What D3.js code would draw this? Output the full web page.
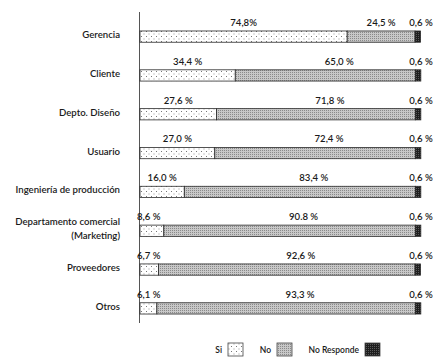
<!DOCTYPE html>
<html>
<head>
<meta charset="utf-8">
<script src="https://cdn.jsdelivr.net/npm/d3@7"></script>
<style>
  body { margin: 0; background: #fff; }
  svg { font-family: Lato, "Open Sans", sans-serif; }
</style>
</head>
<body>
<svg id="chart" width="444" height="364"></svg>
<script>
const categories = ["Gerencia", "Cliente", "Depto. Diseño", "Usuario", "Ingeniería de producción",
  "Departamento comercial|(Marketing)", "Proveedores", "Otros"];
const si = [74.8, 34.4, 27.6, 27.0, 16.0, 8.6, 6.7, 6.1];
const no = [24.5, 65.0, 71.8, 72.4, 83.4, 90.8, 92.6, 93.3];
const noResponde = [0.6, 0.6, 0.6, 0.6, 0.6, 0.6, 0.6, 0.6];
const siLabels = ["74,8%", "34,4 %", "27,6 %", "27,0 %", "16,0 %", "8,6 %", "6,7 %", "6,1 %"];
const noLabels = ["24,5 %", "65,0 %", "71,8 %", "72,4 %", "83,4 %", "90.8 %", "92,6 %", "93,3 %"];
const nrLabels = ["0,6 %", "0,6 %", "0,6 %", "0,6 %", "0,6 %", "0,6 %", "0,6 %", "0,6 %"];
const legendNames = ["Si", "No", "No Responde"];

(() => {
  const svg = d3.select("#chart");
  const defs = svg.append("defs");

  // patterns
  const pSi = defs.append("pattern").attr("id", "pSi")
    .attr("patternUnits", "userSpaceOnUse").attr("width", 5).attr("height", 5);
  pSi.append("rect").attr("width", 5).attr("height", 5).attr("fill", "#fff");
  pSi.append("rect").attr("x", 1).attr("y", 1).attr("width", 1).attr("height", 1).attr("fill", "#777");
  pSi.append("rect").attr("x", 3.5).attr("y", 3.5).attr("width", 1).attr("height", 1).attr("fill", "#999");

  const pNo = defs.append("pattern").attr("id", "pNo")
    .attr("patternUnits", "userSpaceOnUse").attr("width", 2).attr("height", 2);
  pNo.append("rect").attr("width", 2).attr("height", 2).attr("fill", "#c8c8c8");
  pNo.append("rect").attr("width", 1).attr("height", 1).attr("fill", "#8a8a8a");

  const pNr = defs.append("pattern").attr("id", "pNr")
    .attr("patternUnits", "userSpaceOnUse").attr("width", 2).attr("height", 2);
  pNr.append("rect").attr("width", 2).attr("height", 2).attr("fill", "#1e1e1e");
  pNr.append("rect").attr("width", 1).attr("height", 1).attr("fill", "#5a5a5a");

  const fills = ["url(#pSi)", "url(#pNo)", "url(#pNr)"];

  const x = d3.scaleLinear().domain([0, 100]).range([140, 417]);
  const y = d3.scaleBand().domain(categories).range([17, 328]).paddingInner(0.71).paddingOuter(0.36);

  const data = categories.map((c, i) => ({
    cat: c,
    segs: [si[i], no[i], noResponde[i]],
    labels: [siLabels[i], noLabels[i], nrLabels[i]]
  }));

  // axis line
  svg.append("line")
    .attr("x1", 139.5).attr("x2", 139.5)
    .attr("y1", 12).attr("y2", 323)
    .attr("stroke", "#555").attr("stroke-width", 1);

  // category labels
  data.forEach(d => {
    const lines = d.cat.split("|");
    const cy = y(d.cat) + y.bandwidth() / 2;
    const t = svg.append("text")
      .attr("text-anchor", "end")
      .attr("font-size", "9.6px")
      .attr("font-weight", 600)
      .attr("fill", "#1a1a1a");
    lines.forEach((l, k) => {
      t.append("tspan")
        .attr("x", 120)
        .attr("y", cy + 1.5 + (k - (lines.length - 1) / 2) * 14)
        .text(l);
    });
  });

  const rows = svg.selectAll(".row").data(data).join("g").attr("class", "row");

  rows.each(function (d) {
    const g = d3.select(this);
    let acc = 0;
    const top = y(d.cat);
    d.segs.forEach((v, k) => {
      const x0 = acc;
      acc += v;
      // keep the tiny "no responde" slice visible
      const w = k === 2 ? Math.max(x(acc) - x(x0), 5.5) : x(acc) - x(x0);
      g.append("rect")
        .attr("x", x(x0))
        .attr("y", top)
        .attr("width", w)
        .attr("height", y.bandwidth())
        .attr("fill", fills[k])
        .attr("stroke", "#2a2a2a")
        .attr("stroke-width", 0.8);
      let lx = x(x0) + w / 2;
      let anchor = "middle";
      if (k === 0 && w < 40) { lx = 137; anchor = "start"; }
      if (k === 1 && w > 100) lx += 14;
      if (k === 2) lx = 421;
      g.append("text")
        .attr("x", lx)
        .attr("y", top - 5)
        .attr("text-anchor", anchor)
        .attr("font-size", "9.6px")
        .attr("font-weight", 600)
        .attr("fill", "#1a1a1a")
        .text(d.labels[k]);
    });
  });

  // legend
  const legendBox = [228, 277, 365];
  legendNames.forEach((n, k) => {
    svg.append("text")
      .attr("x", legendBox[k] - 6)
      .attr("y", 352.5)
      .attr("text-anchor", "end")
      .attr("font-size", "8.5px")
      .attr("font-weight", 600)
      .attr("fill", "#1a1a1a")
      .text(n);
    svg.append("rect")
      .attr("x", legendBox[k])
      .attr("y", 343)
      .attr("width", 15)
      .attr("height", 13)
      .attr("fill", fills[k])
      .attr("stroke", "#444")
      .attr("stroke-width", 0.8);
  });
})();
</script>
</body>
</html>
